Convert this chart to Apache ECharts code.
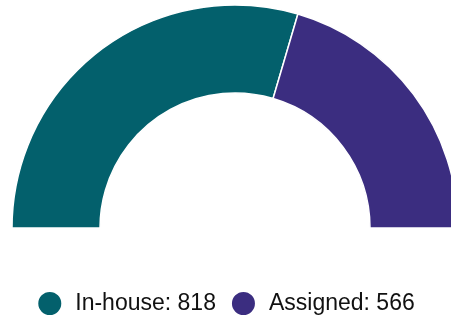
<!DOCTYPE html>
<html>
<head>
<meta charset="utf-8">
<script src="https://cdn.jsdelivr.net/npm/echarts@6/dist/echarts.min.js"></script>
<style>
  html, body { margin: 0; padding: 0; background: #fff; }
  #chart { width: 451px; height: 315px; }
</style>
</head>
<body>
<div id="chart"></div>
<script>
  const names = ['In-house', 'Assigned'];
  const values = [818, 566];
  const colors = ['#03606c', '#3b2d80'];

  const chart = echarts.init(document.getElementById('chart'));
  chart.setOption({
    animation: false,
    color: colors,
    legend: {
      top: 285,
      left: 'center',
      icon: 'circle',
      itemWidth: 25,
      itemHeight: 25,
      itemGap: 14,
      textStyle: {
        fontFamily: 'Liberation Sans, Arial, sans-serif',
        fontSize: 23,
        color: '#111',
        padding: [0, 0, 0, 8]
      },
      formatter: (n) => n + ': ' + values[names.indexOf(n)]
    },
    series: [
      {
        type: 'pie',
        center: [235, 228],
        radius: [135, 223],
        startAngle: 180,
        endAngle: 360,
        label: { show: false },
        labelLine: { show: false },
        itemStyle: { borderColor: '#fff', borderWidth: 1.5 },
        data: names.map((n, i) => ({ name: n, value: values[i] }))
      }
    ]
  });
</script>
</body>
</html>
